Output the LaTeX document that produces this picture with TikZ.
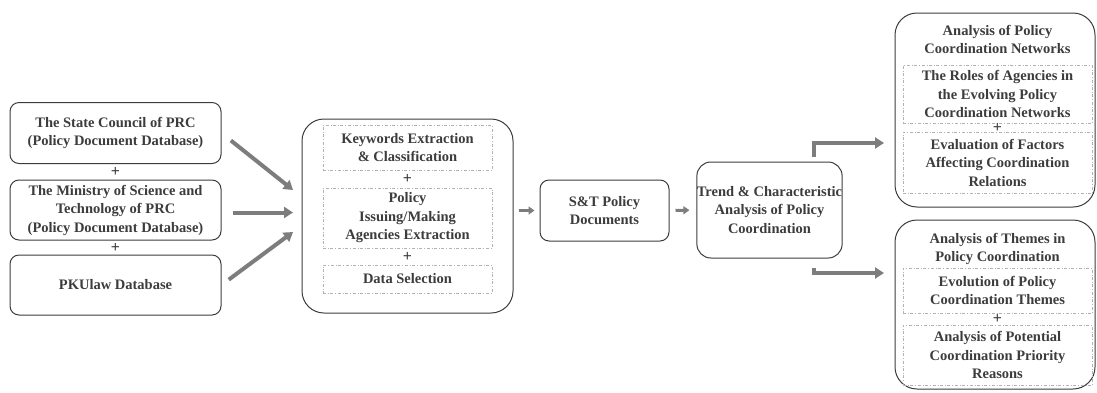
\documentclass[tikz,border=0pt]{standalone}
\usepackage{fontspec}
\setmainfont{Liberation Serif}
\usetikzlibrary{arrows.meta}

\definecolor{boxline}{RGB}{60,60,60}
\definecolor{flowgray}{RGB}{125,125,125}
\definecolor{txt}{RGB}{60,60,60}

\tikzset{
  srcbox/.style={draw=boxline, rounded corners=9pt, line width=1pt, align=center,
    inner sep=0pt, minimum width=211pt, text=txt, font=\bfseries\fontsize{14.5}{18.5}\selectfont},
  bigbox/.style={draw=boxline, rounded corners=22pt, line width=1pt, inner sep=0pt},
  subbox/.style={draw=gray!60, dash dot, line width=0.6pt, align=center, inner sep=0pt,
    text=txt, font=\bfseries\fontsize{14.5}{18.5}\selectfont},
  titletext/.style={align=center, text=txt, font=\bfseries\fontsize{14.5}{18.5}\selectfont},
  plus/.style={text=txt, font=\bfseries\fontsize{16}{16}\selectfont, inner sep=0pt},
  flow/.style={draw=flowgray, line width=4pt, -{Triangle[length=9pt,width=11pt]}},
  smallflow/.style={draw=flowgray, line width=3pt, -{Triangle[length=6pt,width=8pt]}}
}

\begin{document}
\begin{tikzpicture}[x=1pt,y=-1pt]
  \useasboundingbox (0,0) rectangle (1097,392);

  % sources
  \node[srcbox, minimum height=61pt] (council) at (115.5,133) {The State Council of PRC\\(Policy Document Database)};
  \node[srcbox, minimum height=60pt] (most) at (115.5,210) {The Ministry of Science and\\Technology of PRC\\(Policy Document Database)};
  \node[srcbox, minimum height=60pt] (pkulaw) at (115.5,285) {PKUlaw Database};
  \node[plus] (p1) at (115.5,171.5) {+};
  \node[plus] (p2) at (115.5,248) {+};

  % processing
  \node[bigbox, minimum width=211pt, minimum height=194pt] (proc) at (407.5,216) {};
  \node[subbox, minimum width=169pt, minimum height=45pt] (keyw) at (407.5,147.5) {Keywords Extraction\\\& Classification};
  \node[plus] (p3) at (407.5,179) {+};
  \node[subbox, minimum width=169pt, minimum height=60pt] (agency) at (407.5,218) {Policy\\Issuing/Making\\Agencies Extraction};
  \node[plus] (p4) at (407.5,256.5) {+};
  \node[subbox, minimum width=169pt, minimum height=28pt] (select) at (407.5,279) {Data Selection};

  \node[srcbox, minimum width=129pt, minimum height=61pt] (docs) at (604.5,210.5) {S\&T Policy\\Documents};
  \node[srcbox, rounded corners=14pt, minimum width=145pt, minimum height=96pt] (trend) at (769.5,210) {Trend \& Characteristic\\Analysis of Policy\\Coordination};

  % networks
  \node[bigbox, minimum width=200pt, minimum height=194pt] (netw) at (995,110) {};
  \node[titletext] (netwtitle) at (997.5,39.5) {Analysis of Policy\\Coordination Networks};
  \node[subbox, minimum width=189pt, minimum height=58pt] (roles) at (997.5,94) {The Roles of Agencies in\\the Evolving Policy\\Coordination Networks};
  \node[plus] (p5) at (997.5,127.5) {+};
  \node[subbox, minimum width=189pt, minimum height=61pt] (factors) at (997.5,162.5) {Evaluation of Factors\\Affecting Coordination\\Relations};

  % themes
  \node[bigbox, minimum width=200pt, minimum height=169pt] (themes) at (995,304.5) {};
  \node[titletext] (themetitle) at (997.5,249) {Analysis of Themes in\\Policy Coordination};
  \node[subbox, minimum width=189pt, minimum height=45pt] (evol) at (997.5,290.5) {Evolution of Policy\\Coordination Themes};
  \node[plus] (p6) at (997.5,318.5) {+};
  \node[subbox, minimum width=189pt, minimum height=60pt] (reasons) at (997.5,355) {Analysis of Potential\\Coordination Priority\\Reasons};

  % arrow ends
  \coordinate (inA) at (293,190);
  \coordinate (inB) at (293,212.5);
  \coordinate (inC) at (293,232);
  \coordinate (inG) at (884,143);
  \coordinate (inH) at (884,273);

  \draw[flow, shorten <=12pt] (council.east) -- (inA);
  \draw[flow, shorten <=11pt] (most.east |- inB) -- (inB);
  \draw[flow, shorten <=9pt] (pkulaw.east) -- (inC);
  \draw[smallflow, shorten <=5pt, shorten >=5pt] (proc.east |- docs.west) -- (docs.west);
  \draw[smallflow, shorten <=6pt, shorten >=7pt] (docs.east) -- (trend.west);
  \draw[flow] ([xshift=44pt,yshift=5pt]trend.north) |- (inG);
  \draw[flow] ([xshift=44pt,yshift=-9pt]trend.south) |- (inH);

\end{tikzpicture}
\end{document}
